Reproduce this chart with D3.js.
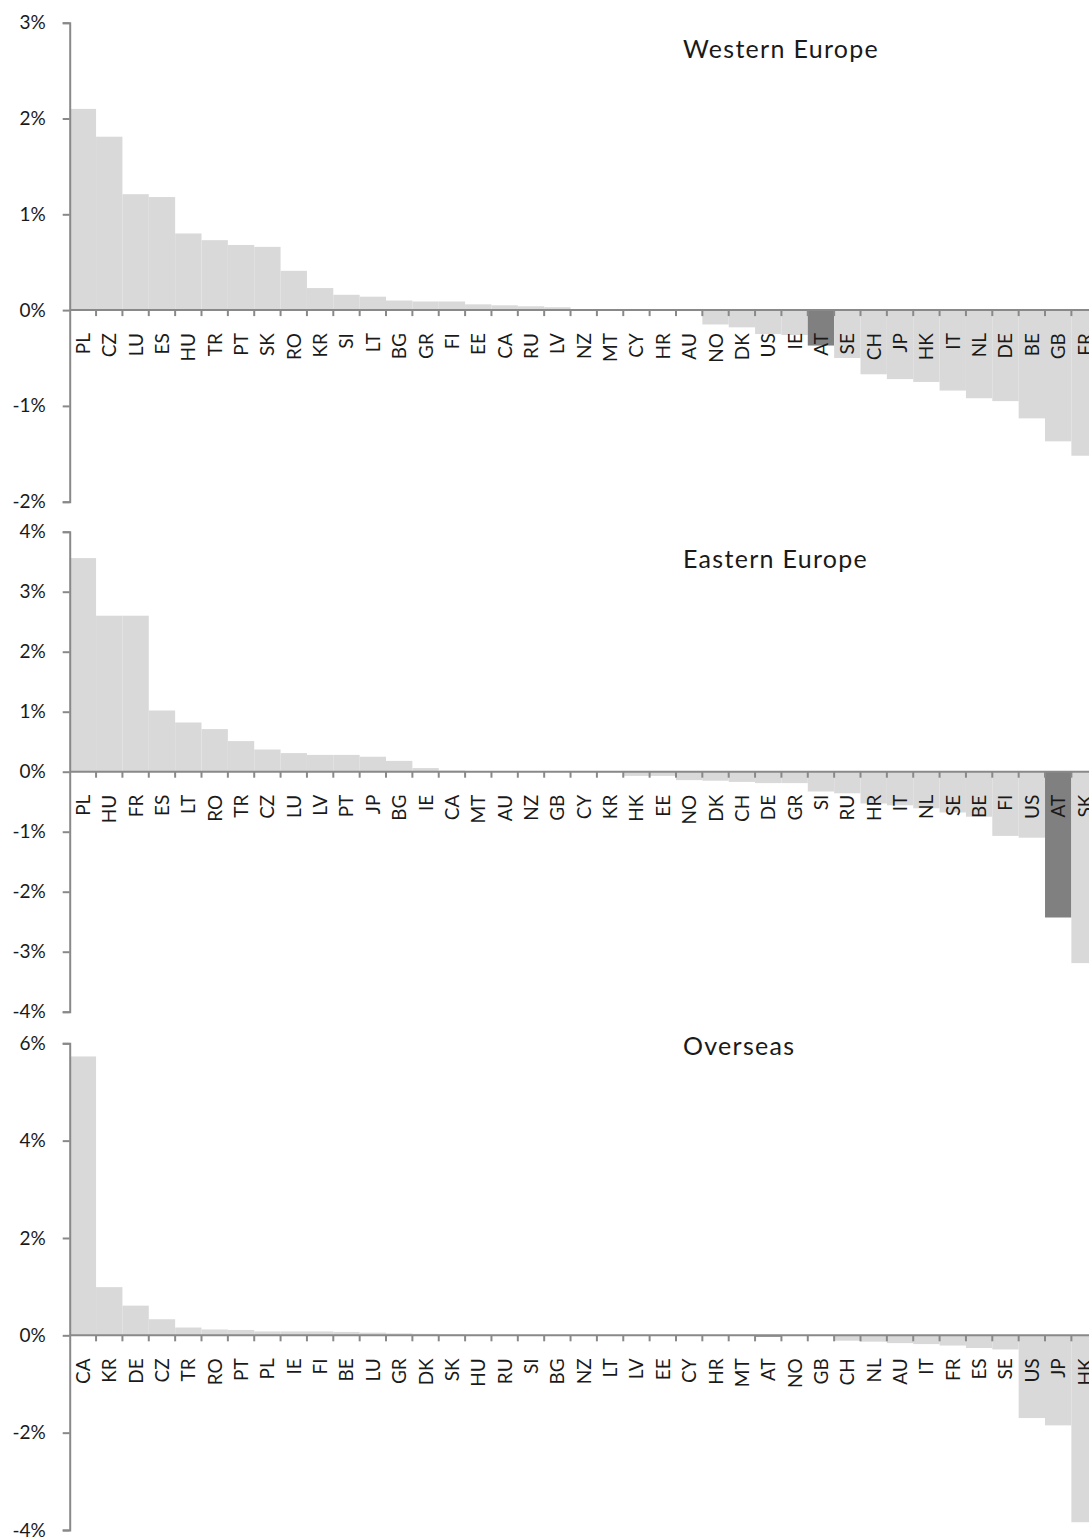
<!DOCTYPE html>
<html>
<head>
<meta charset="utf-8">
<script src="https://cdn.jsdelivr.net/npm/d3@7/dist/d3.min.js"></script>
<style>
  html, body { margin: 0; padding: 0; background: #fff; }
  svg { display: block; }
  text { font-family: "Lato", "DejaVu Sans", sans-serif; fill: #1a1a1a; }
</style>
</head>
<body>
<script>
// ---- Data ----
const westCategories = ["PL","CZ","LU","ES","HU","TR","PT","SK","RO","KR","SI","LT","BG","GR","FI","EE","CA","RU","LV","NZ","MT","CY","HR","AU","NO","DK","US","IE","AT","SE","CH","JP","HK","IT","NL","DE","BE","GB","FR"];
const westValues = [2.10,1.81,1.21,1.18,0.80,0.73,0.68,0.66,0.41,0.23,0.16,0.14,0.10,0.09,0.09,0.06,0.05,0.04,0.03,0.01,0.005,0.0,0.0,-0.01,-0.15,-0.18,-0.25,-0.26,-0.37,-0.50,-0.67,-0.72,-0.75,-0.84,-0.92,-0.95,-1.13,-1.37,-1.52];
const westTicks = [3,2,1,0,-1,-2];

const eastCategories = ["PL","HU","FR","ES","LT","RO","TR","CZ","LU","LV","PT","JP","BG","IE","CA","MT","AU","NZ","GB","CY","KR","HK","EE","NO","DK","CH","DE","GR","SI","RU","HR","IT","NL","SE","BE","FI","US","AT","SK"];
const eastValues = [3.56,2.60,2.60,1.02,0.82,0.71,0.51,0.37,0.31,0.28,0.28,0.25,0.18,0.06,0.02,0.01,0.005,0.0,0.0,0.0,-0.01,-0.07,-0.07,-0.14,-0.15,-0.17,-0.19,-0.19,-0.33,-0.36,-0.53,-0.56,-0.61,-0.68,-0.75,-1.07,-1.10,-2.43,-3.19];
const eastTicks = [4,3,2,1,0,-1,-2,-3,-4];

const overCategories = ["CA","KR","DE","CZ","TR","RO","PT","PL","IE","FI","BE","LU","GR","DK","SK","HU","RU","SI","BG","NZ","LT","LV","EE","CY","HR","MT","AT","NO","GB","CH","NL","AU","IT","FR","ES","SE","US","JP","HK"];
const overValues = [5.73,0.99,0.61,0.33,0.16,0.12,0.11,0.08,0.08,0.08,0.07,0.055,0.04,0.03,0.02,0.01,0.01,0.005,0.0,0.0,0.0,0.0,0.0,0.0,0.0,0.0,-0.03,0.0,-0.01,-0.11,-0.13,-0.16,-0.18,-0.21,-0.26,-0.29,-1.70,-1.85,-3.84];
const overTicks = [6,4,2,0,-2,-4];

const titles = ["Western Europe","Eastern Europe","Overseas"];
const highlight = "AT";

// ---- Layout ----
const W = 1089, H = 1540;
const svg = d3.select("body").append("svg").attr("width", W).attr("height", H);

const axisColor = "#898989";
const barColor = "#d9d9d9";
const hiColor = "#808080";
const x0 = 69.7, bandW = 26.36;

const panels = [
  {cats: westCategories, vals: westValues, ticks: westTicks, domain: [-2,3], range: [501.7, 22.7], title: titles[0], titleY: 58},
  {cats: eastCategories, vals: eastValues, ticks: eastTicks, domain: [-4,4], range: [1011.7, 531.7], title: titles[1], titleY: 568},
  {cats: overCategories, vals: overValues, ticks: overTicks, domain: [-4,6], range: [1530, 1043.3], title: titles[2], titleY: 1055}
];

panels.forEach(p => {
  const g = svg.append("g");
  const x = d3.scaleBand().domain(p.cats).range([x0, x0 + bandW * p.cats.length]).paddingInner(0).paddingOuter(0);
  const y = d3.scaleLinear().domain(p.domain).range(p.range);
  const data = p.cats.map((c, i) => ({c, v: p.vals[i]}));

  // bars
  g.selectAll("rect.bar").data(data).join("rect")
    .attr("class", "bar")
    .attr("x", d => x(d.c))
    .attr("width", x.bandwidth())
    .attr("y", d => Math.min(y(d.v), y(0)))
    .attr("height", d => Math.abs(y(d.v) - y(0)))
    .attr("fill", d => d.c === highlight ? hiColor : barColor);

  // y axis
  const yAxis = d3.axisLeft(y).tickValues(p.ticks).tickSize(7).tickPadding(17)
    .tickFormat(d => d + "%");
  const ya = g.append("g").attr("transform", `translate(${x0},0)`).call(yAxis);
  ya.select(".domain").attr("stroke", axisColor).attr("stroke-width", 2);
  ya.selectAll(".tick line").attr("stroke", axisColor).attr("stroke-width", 2);
  ya.selectAll(".tick text").attr("font-size", 19).attr("fill", "#1a1a1a")
    .style("font-family", '"Lato", "DejaVu Sans", sans-serif');

  // x axis line at zero
  const zy = y(0);
  g.append("line").attr("x1", x0).attr("x2", W + 20).attr("y1", zy).attr("y2", zy)
    .attr("stroke", axisColor).attr("stroke-width", 2);
  // tick marks at band boundaries
  g.selectAll("line.xt").data(p.cats.slice(1)).join("line")
    .attr("class", "xt")
    .attr("x1", d => x(d)).attr("x2", d => x(d))
    .attr("y1", zy).attr("y2", zy + 6)
    .attr("stroke", axisColor).attr("stroke-width", 2);
  // category labels
  g.selectAll("text.cat").data(p.cats).join("text")
    .attr("class", "cat")
    .attr("transform", d => `translate(${x(d) + x.bandwidth()/2 + 7},${zy + 23}) rotate(-90)`)
    .attr("text-anchor", "end")
    .attr("font-size", 19)
    .text(d => d);

  // title
  g.append("text").attr("x", 683).attr("y", p.titleY)
    .attr("font-size", 25).attr("letter-spacing", 1.3).text(p.title);
});
</script>
</body>
</html>
